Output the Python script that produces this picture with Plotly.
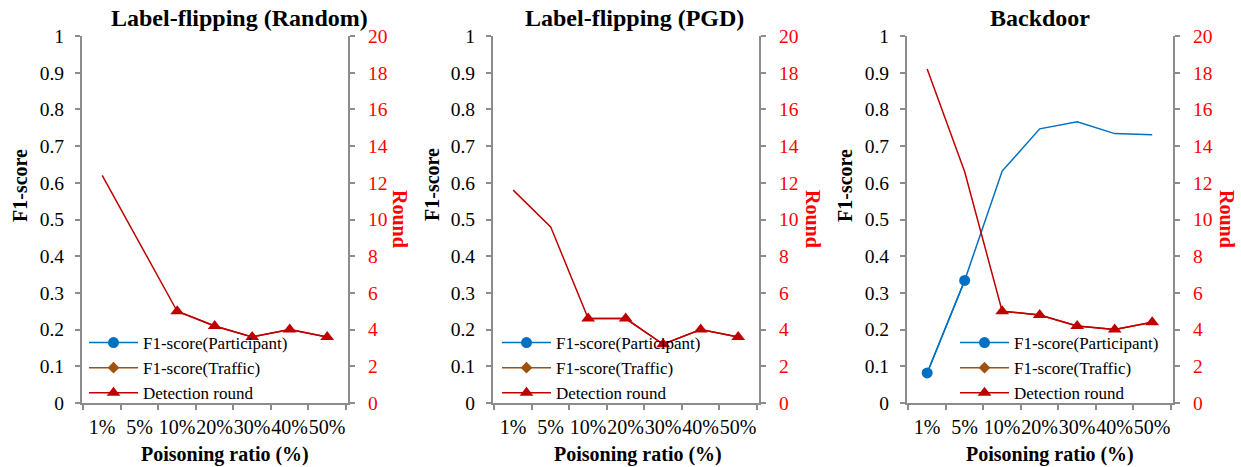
import plotly.graph_objects as go

W, H = 1241, 467

categories = ["1%", "5%", "10%", "20%", "30%", "40%", "50%"]

panel_titles = ["Label-flipping (Random)", "Label-flipping (PGD)", "Backdoor"]

# F1-score (Participant) per panel (None = not drawn)
participant_random = [None] * 7
participant_pgd = [None] * 7
participant_backdoor = [0.082, 0.334, 0.632, 0.747, 0.766, 0.734, 0.731]

# F1-score (Traffic): no visible values
traffic_random = [None] * 7
traffic_pgd = [None] * 7
traffic_backdoor = [None] * 7

# Detection round per panel
round_random = [12.4, 8.7, 5.0, 4.2, 3.6, 4.0, 3.6]
round_pgd = [11.6, 9.6, 4.6, 4.6, 3.2, 4.0, 3.6]
round_backdoor = [18.2, 12.6, 5.0, 4.8, 4.2, 4.0, 4.4]

# which points carry a marker (as in the reference)
participant_marker_idx = [0, 1]
round_marker_idx = [2, 3, 4, 5, 6]

participants = [participant_random, participant_pgd, participant_backdoor]
traffics = [traffic_random, traffic_pgd, traffic_backdoor]
rounds = [round_random, round_pgd, round_backdoor]

FONT = "Liberation Serif, Times New Roman, serif"
BLUE = "#0070C0"
BROWN = "#A0500F"
DRED = "#C00000"
RED = "#FF0000"
GRAY = "#8C8C8C"
TICK_SIZE = 19.5
XTICK_SIZE = 20


def px_x(v):
    return v / W


def px_y(v):
    return 1 - v / H


# panel geometry in page pixels
plot_left = [82, 493, 907]
plot_w = 266
plot_top, plot_bottom = 36, 403
title_cx = [239, 634, 1040]
xtitle_cx = [225, 638, 1050]
ylab_x = [20, 432, 845]
rlab_x = [400, 813, 1227]
legend_left = [84, 497, 955]

fig = go.Figure()
layout = dict(
    width=W, height=H,
    margin=dict(l=0, r=0, t=0, b=0, autoexpand=False),
    paper_bgcolor="white", plot_bgcolor="white",
    font=dict(family=FONT, size=18, color="black"),
    annotations=[],
)

for p in range(3):
    xn = "x" if p == 0 else f"x{p+1}"
    yl = "y" if p == 0 else f"y{2*p+1}"
    yr = f"y{2*p+2}"
    leg = "legend" if p == 0 else f"legend{p+1}"
    xa_key = "xaxis" if p == 0 else f"xaxis{p+1}"
    yl_key = "yaxis" if p == 0 else f"yaxis{2*p+1}"
    yr_key = f"yaxis{2*p+2}"

    part = participants[p]
    traf = traffics[p]
    rnd = rounds[p]

    # Participant: full line, then marked points carrying the legend entry
    fig.add_trace(go.Scatter(x=categories, y=part, mode="lines", xaxis=xn, yaxis=yl,
                             line=dict(color=BLUE, width=1.5), showlegend=False,
                             hoverinfo="skip"))
    fig.add_trace(go.Scatter(x=[categories[i] for i in participant_marker_idx],
                             y=[part[i] for i in participant_marker_idx],
                             mode="lines+markers", xaxis=xn, yaxis=yl,
                             name="F1-score(Participant)", legend=leg,
                             line=dict(color=BLUE, width=1.5),
                             marker=dict(symbol="circle", size=11, color=BLUE)))
    # Traffic
    fig.add_trace(go.Scatter(x=categories, y=traf, mode="lines+markers", xaxis=xn, yaxis=yl,
                             name="F1-score(Traffic)", legend=leg,
                             line=dict(color=BROWN, width=1.5),
                             marker=dict(symbol="diamond", size=9, color=BROWN)))
    # Detection round
    fig.add_trace(go.Scatter(x=categories, y=rnd, mode="lines", xaxis=xn, yaxis=yr,
                             line=dict(color=DRED, width=1.5), showlegend=False,
                             hoverinfo="skip"))
    fig.add_trace(go.Scatter(x=[categories[i] for i in round_marker_idx],
                             y=[rnd[i] for i in round_marker_idx],
                             mode="lines+markers", xaxis=xn, yaxis=yr,
                             name="Detection round", legend=leg,
                             line=dict(color=DRED, width=1.5),
                             marker=dict(symbol="triangle-up", size=12, color=DRED)))

    dom_x = [px_x(plot_left[p]), px_x(plot_left[p] + plot_w)]
    dom_y = [px_y(plot_bottom), px_y(plot_top)]

    layout[xa_key] = dict(
        domain=dom_x, anchor=yl, type="category", categoryorder="array",
        categoryarray=categories, tickson="boundaries", ticks="outside",
        ticklen=5, tickwidth=2, tickcolor=GRAY, showline=True, linecolor=GRAY,
        linewidth=2, showgrid=False, zeroline=False, fixedrange=True, tickangle=0,
        automargin=False,
        tickfont=dict(family=FONT, size=XTICK_SIZE, color="black"), ticklabelstandoff=5,
    )
    layout[yl_key] = dict(
        domain=dom_y, anchor=xn, range=[0, 1], dtick=0.1, ticks="outside",
        ticklen=5, tickwidth=2, tickcolor=GRAY, showline=True, linecolor=GRAY,
        linewidth=2, showgrid=False, zeroline=False, automargin=False, fixedrange=True,
        tickfont=dict(family=FONT, size=TICK_SIZE, color="black"), ticklabelstandoff=7,
    )
    layout[yr_key] = dict(
        overlaying=yl, side="right", anchor=xn, range=[0, 20], dtick=2,
        ticks="outside", ticklen=5, tickwidth=2, tickcolor=GRAY, showline=True,
        linecolor=GRAY, linewidth=2, showgrid=False, zeroline=False, automargin=False,
        fixedrange=True,
        tickfont=dict(family=FONT, size=TICK_SIZE, color=RED), ticklabelstandoff=9,
    )
    layout[leg] = dict(
        x=px_x(legend_left[p]), y=px_y(plot_bottom + 8), xanchor="left", yanchor="bottom",
        bgcolor="rgba(0,0,0,0)", font=dict(family=FONT, size=17, color="black"),
        tracegroupgap=0, itemwidth=49, traceorder="normal",
    )

    layout["annotations"] += [
        dict(text=f"<b>{panel_titles[p]}</b>", x=px_x(title_cx[p]), y=px_y(18),
             xref="paper", yref="paper", showarrow=False, xanchor="center", yanchor="middle",
             font=dict(family=FONT, size=24, color="black")),
        dict(text="<b>Poisoning ratio (%)</b>", x=px_x(xtitle_cx[p]), y=px_y(454),
             xref="paper", yref="paper", showarrow=False, xanchor="center", yanchor="middle",
             font=dict(family=FONT, size=20, color="black")),
        dict(text="<b>F1-score</b>", x=px_x(ylab_x[p]), y=px_y(185), textangle=-90,
             xref="paper", yref="paper", showarrow=False, xanchor="center", yanchor="middle",
             font=dict(family=FONT, size=20, color="black")),
        dict(text="<b>Round</b>", x=px_x(rlab_x[p]), y=px_y(219), textangle=90,
             xref="paper", yref="paper", showarrow=False, xanchor="center", yanchor="middle",
             font=dict(family=FONT, size=20, color=RED)),
    ]

fig.update_layout(**layout)
fig.write_html("out.html", config={"displayModeBar": False},
               post_script="document.body.style.margin='0';document.body.style.overflow='hidden';")
